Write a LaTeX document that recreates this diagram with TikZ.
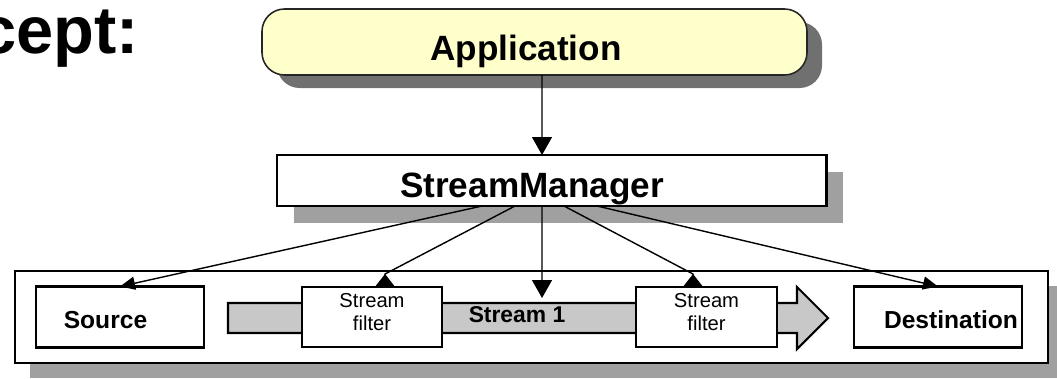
\documentclass[tikz,border=0pt]{standalone}
\usepackage{fontspec}
\setmainfont{Liberation Sans}
\usetikzlibrary{arrows.meta,positioning,shadows}
\definecolor{appyellow}{RGB}{255,255,204}
\definecolor{streamgray}{RGB}{200,200,200}
\definecolor{shadowdark}{RGB}{112,112,112}
\definecolor{shadowlight}{RGB}{160,160,160}

\begin{document}
\begin{tikzpicture}[
    every node/.style={align=center},
    box/.style={rectangle, draw=black, fill=white, line width=1.4pt, inner sep=0pt, outer sep=0pt},
    appbox/.style={rectangle, rounded corners=0.45cm, draw=black!85, fill=appyellow, line width=0.9pt, outer sep=0pt,
        minimum width=10.9cm, minimum height=1.32cm,
        drop shadow={shadow xshift=0.3cm, shadow yshift=-0.26cm, fill=shadowdark, opacity=1}},
    lowshadow/.style={drop shadow={shadow xshift=#1, shadow yshift=-#1, fill=shadowlight, opacity=1}},
    bigtext/.style={font=\fontsize{20}{24}\selectfont\bfseries},
    midtext/.style={font=\fontsize{14}{16}\selectfont\bfseries},
    smalltext/.style={font=\fontsize{11.5}{13.6}\selectfont},
    link/.style={line width=0.8pt, -{Triangle[width=0.26cm, length=0.3cm]}},
    downlink/.style={line width=0.8pt, -{Triangle[width=0.4cm, length=0.36cm]}},
    uplink/.style={line width=0.8pt, -{Triangle[reversed, width=0.4cm, length=0.26cm]}}
]
\useasboundingbox (0,0) rectangle (21.14,-7.56);

% Title fragment
\node[anchor=base east, inner sep=0pt, font=\fontsize{38}{40}\selectfont\bfseries] (title) at (2.78,-1.06) {cept:};

% Application and manager
\node[appbox] (app) at (10.69,-0.84) {};
\node[bigtext] (apptext) at ([xshift=-0.17cm, yshift=-0.19cm]app.center) {Application};

\node[box, line width=1.7pt, minimum width=10.98cm, minimum height=1.02cm, lowshadow=0.34cm,
    below=1.6cm of app, xshift=0.34cm] (sm) {};
\node[bigtext] (smtext) at ([xshift=-0.39cm, yshift=-0.16cm]sm.center) {StreamManager};

% Stream container
\node[box, minimum width=20.66cm, minimum height=1.84cm, lowshadow=0.3cm,
    below=1.3cm of sm, xshift=-0.4cm] (stage) {};
\node[box, minimum width=3.36cm, minimum height=1.22cm, right=0.42cm of stage.west] (src) {};
\node[midtext] (srctext) at ([xshift=-0.29cm, yshift=-0.07cm]src.center) {Source};

% Stream body
\draw[line width=1.2pt, fill=streamgray] (4.56,-6.06) -- (15.94,-6.06) -- (15.94,-5.74) -- (16.56,-6.36)
    -- (15.94,-6.98) -- (15.94,-6.66) -- (4.56,-6.66) -- cycle;
\node[font=\fontsize{13}{15}\selectfont\bfseries] (s1) at (10.34,-6.29) {Stream 1};
\coordinate (s1top) at (10.84,-5.96);

\node[box, minimum width=2.8cm, minimum height=1.2cm, right=1.96cm of src] (f1) {};
\node[smalltext] (f1text) at ([yshift=0.1cm]f1.center) {Stream\\filter};
\node[box, minimum width=2.82cm, minimum height=1.2cm, right=3.88cm of f1] (f2) {};
\node[smalltext] (f2text) at ([yshift=0.1cm]f2.center) {Stream\\filter};
\node[box, minimum width=3.36cm, minimum height=1.22cm, right=1.54cm of f2] (dst) {};
\node[midtext] (dsttext) at ([xshift=0.26cm, yshift=-0.05cm]dst.center) {Destination};

% Connections
\draw[downlink] ([xshift=0.15cm]app.south) -- ([xshift=-0.19cm]sm.north);
\draw[link] ([xshift=-1.39cm]sm.south) -- (src.north);
\draw[uplink] ([xshift=-0.73cm]sm.south) -- ([xshift=0.26cm, yshift=0.26cm]f1.north) -- ([xshift=0.26cm]f1.north);
\draw[downlink] ([xshift=-0.19cm]sm.south) -- (s1top);
\draw[uplink] ([xshift=0.25cm]sm.south) -- ([xshift=-0.27cm, yshift=0.26cm]f2.north) -- ([xshift=-0.27cm]f2.north);
\draw[link] ([xshift=0.91cm]sm.south) -- (dst.north);

\end{tikzpicture}
\end{document}
